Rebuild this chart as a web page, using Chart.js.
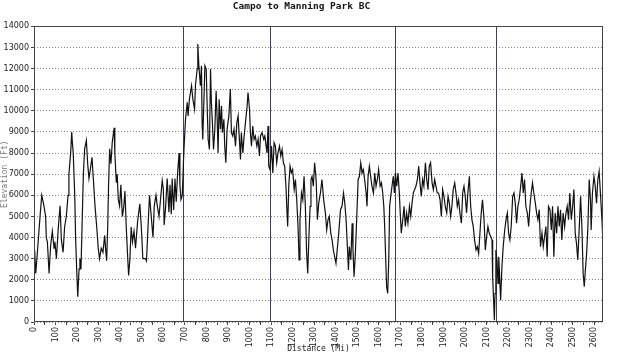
<!DOCTYPE html>
<html>
<head>
<meta charset="utf-8">
<script src="https://cdn.jsdelivr.net/npm/chart.js@4.4.0/dist/chart.umd.min.js"></script>
<style>
  body { margin: 0; background: #fff; }
  #wrap { width: 640px; height: 354px; position: relative; }
</style>
</head>
<body>
<div id="wrap"><canvas id="elevChart"></canvas></div>
<script>
// trail distance (mi) and elevation (ft)
const miles = [
  0, 3, 8, 15, 28, 36, 46, 54, 57, 62, 70, 77, 85, 93, 97, 104, 113, 121, 127, 135,
  142, 150, 158, 162, 170, 175, 178, 182, 189, 193, 198, 203, 209, 213, 218, 224, 229, 235, 243, 249,
  255, 261, 269, 274, 283, 291, 298, 304, 312, 320, 328, 332, 337, 342, 346, 351, 357, 363, 372, 375,
  382, 386, 391, 397, 403, 410, 416, 422, 428, 434, 439, 445, 451, 457, 464, 471, 481, 491, 498, 505,
  518, 522, 529, 536, 544, 552, 558, 566, 572, 580, 587, 595, 600, 604, 611, 618, 626, 631, 637, 641,
  648, 654, 660, 666, 673, 677, 682, 688,
  695, 703, 711, 715, 721, 731, 737, 745, 749, 757, 760, 765, 772, 777, 780, 783, 788, 793, 799, 803,
  808, 814, 819, 823, 827, 833, 839, 845, 850, 854, 859, 865, 870, 874, 881, 885, 890, 896, 904, 911,
  916, 922, 928, 935, 941, 947, 953, 958, 962, 969, 975, 981, 989, 993, 1000, 1004, 1009, 1015, 1021, 1027,
  1034, 1040, 1046, 1051, 1058, 1066, 1071, 1077, 1081, 1086, 1089, 1095, 1102, 1108, 1114, 1120, 1126, 1132, 1139, 1145,
  1151, 1157, 1163, 1169, 1174, 1177, 1182, 1188, 1194, 1200, 1207, 1213, 1219, 1225, 1230, 1234, 1241, 1247, 1253, 1259,
  1265, 1270, 1275, 1281, 1285, 1290, 1296, 1302, 1309, 1315, 1321, 1329, 1336, 1344, 1352, 1358, 1364, 1370, 1377, 1383,
  1389, 1395, 1401,
  1414, 1422, 1429, 1436, 1442, 1448, 1454, 1459, 1463, 1470, 1476, 1480, 1485, 1491, 1497, 1504, 1510, 1516, 1522, 1528,
  1534, 1541, 1545, 1550, 1556, 1562, 1568, 1575, 1581, 1587, 1593, 1599, 1606, 1612, 1618, 1623, 1627, 1632, 1636, 1641,
  1646, 1650, 1655, 1661, 1667, 1672, 1677, 1683, 1689, 1695, 1700, 1704, 1711, 1717, 1723, 1729, 1735, 1742, 1748, 1754,
  1760, 1766, 1772, 1779, 1785, 1791, 1797, 1803, 1809, 1816, 1822, 1828, 1834, 1840, 1847, 1853, 1859, 1865, 1871, 1877,
  1884, 1890, 1896, 1902, 1908, 1915, 1921, 1927, 1933, 1939, 1945, 1952, 1958, 1964, 1970, 1976, 1983, 1989, 1995, 2001,
  2007, 2013, 2020, 2026, 2032, 2038, 2044, 2051, 2057, 2063, 2069, 2075, 2081, 2088, 2094, 2100, 2106,
  2112, 2119, 2125, 2128, 2133, 2136, 2139, 2143, 2148, 2153, 2156, 2160, 2165, 2171, 2177, 2184, 2190, 2196, 2202, 2208,
  2214, 2221, 2227, 2233, 2239, 2245, 2251, 2258, 2264, 2270, 2276, 2282, 2289, 2295, 2301, 2307, 2313, 2319, 2326, 2332,
  2338, 2344, 2350, 2357, 2363, 2369, 2375, 2381, 2387, 2394, 2400, 2406, 2412, 2418, 2425, 2431, 2437, 2443, 2449, 2455,
  2462, 2468, 2474, 2480, 2486, 2493, 2499, 2505, 2511, 2517, 2523, 2530, 2536, 2542, 2548, 2553, 2557, 2564, 2570, 2576,
  2582, 2585, 2591, 2598, 2604, 2610, 2616, 2622, 2628, 2635, 2638
];
const elevationFt = [
  2600, 3400, 2300, 3200, 5000, 6000, 5500, 5000, 4000, 3800, 2300, 3600, 4300, 3500, 3800, 3000, 4500, 5500, 3900, 3300,
  4500, 5000, 6000, 7000, 8000, 9000, 8500, 8000, 6000, 4000, 2500, 1200, 2500, 3000, 2500, 5000, 7000, 8200, 8600, 7500,
  6800, 7200, 7800, 7000, 5500, 4500, 3500, 3000, 3500, 3300, 4100, 3500, 2900, 4500, 6500, 8200, 7500, 8500, 9200, 8000,
  6600, 7000, 5800, 5500, 6500, 5000, 5400, 6200, 4500, 3200, 2200, 3000, 4500, 3800, 4300, 3500, 4800, 5600, 4500, 3000,
  3000, 2900, 4500, 6000, 5000, 4000, 5500, 6000, 5500, 5000, 5800, 6700, 6300, 4600, 5500, 6800, 5200, 6500, 5100, 6800,
  5300, 6800, 5700, 7000, 8000, 6500, 5800, 6000,
  8010, 9600, 10400, 9760, 10550, 11190, 10550, 10080, 11190, 11980, 13170, 12140, 11190, 12140, 9440, 8650, 10400, 12140, 11980, 10400,
  8650, 8170, 11980, 10400, 9600, 8170, 9130, 10950, 9600, 8010, 10550, 9130, 10240, 8970, 9600, 8330, 7540, 9130, 9760, 11030,
  8970, 8810, 9130, 8330, 9440, 9760, 8650, 7700, 8970, 8010, 8810, 9440, 10240, 10870, 10080, 8970, 8330, 9280, 8650, 8810,
  8330, 8650, 7860, 8810, 8970, 8650, 8810, 8330, 8010, 9280, 7380, 7220, 8330, 7060, 8490, 8330, 7540, 8010, 8330, 7860,
  8170, 7540, 7380, 6430, 5160, 4520, 6430, 7380, 7060, 7220, 6270, 6750, 5790, 4520, 2940, 4840, 6110, 5790, 6900, 5480,
  3250, 2300, 3890, 5480, 6750, 6900, 6430, 7540, 6750, 4840, 5630, 6110, 6750, 5790, 5160, 4360, 4840, 5000, 4210, 3890,
  3410, 3090, 2780,
  4210, 5320, 5480, 6110, 5630, 4840, 3570, 2460, 3570, 2940, 4680, 3410, 2140, 3250, 4840, 6750, 6900, 7540, 7060, 7220,
  6750, 6110, 5480, 6900, 7380, 6900, 6430, 6110, 7060, 6430, 6750, 7220, 6430, 6590, 6110, 5480, 4520, 2940, 1670, 1350,
  2940, 5480, 5950, 6430, 6900, 6110, 7060, 6430, 7060, 6110, 5000, 4210, 4840, 5480, 4520, 5160, 4680, 5480, 5000, 5630,
  6110, 6270, 6430, 6750, 7380, 6590, 5950, 6750, 6430, 7540, 6750, 6270, 7380, 7540, 6590, 6270, 6750, 6430, 6110, 6110,
  5790, 5000, 6270, 5950, 5480, 5160, 5950, 5630, 5000, 5480, 6270, 6590, 6110, 5480, 5790, 5160, 4680, 6110, 6430, 5950,
  5160, 6110, 6900, 5480, 4840, 4520, 3890, 3410, 3570, 3250, 4210, 5160, 5790, 4840, 3410, 4050, 4520,
  4210, 4050, 3890, 2140, 870, 80, 1350, 3410, 2940, 1830, 3090, 2300, 1030, 2620, 3570, 4360, 4840, 5160, 4210, 3890,
  4520, 5950, 6110, 5630, 4680, 5480, 5790, 6430, 7060, 6110, 6750, 5480, 5160, 4520, 5480, 6110, 6590, 6110, 5630, 5160,
  4840, 5320, 3570, 4210, 3570, 4050, 4520, 3090, 5480, 5320, 4360, 5480, 3090, 5160, 4210, 5480, 4520, 5320, 3890, 5160,
  4520, 5160, 5480, 4840, 6110, 4840, 5480, 6270, 4210, 3730, 2940, 4520, 5950, 4520, 2300, 1670, 2300, 3250, 4520, 6750,
  5790, 4360, 6110, 6900, 6430, 5630, 6750, 7140, 6110, 4840, 4210
];
// section markers drawn as vertical lines
const sectionMiles = [693, 1095, 1675, 2144];
const elevTicks = [0, 1000, 2000, 3000, 4000, 5000, 6000, 7000, 8000, 9000, 10000, 11000, 12000, 13000, 14000];
const distTicks = [0, 100, 200, 300, 400, 500, 600, 700, 800, 900, 1000, 1100, 1200, 1300,
  1400, 1500, 1600, 1700, 1800, 1900, 2000, 2100, 2200, 2300, 2400, 2500, 2600];

// vertical section lines + frame around the plot
const framePlugin = {
  id: 'framePlugin',
  beforeDatasetsDraw(chart) {
    const { ctx, chartArea, scales } = chart;
    ctx.save();
    ctx.strokeStyle = '#3d3d66';
    ctx.lineWidth = 1;
    sectionMiles.forEach(m => {
      const x = Math.round(scales.x.getPixelForValue(m)) + 0.5;
      ctx.beginPath();
      ctx.moveTo(x, chartArea.top);
      ctx.lineTo(x, chartArea.bottom);
      ctx.stroke();
    });
    ctx.restore();
  },
  afterDraw(chart) {
    const { ctx, chartArea } = chart;
    ctx.save();
    ctx.strokeStyle = '#444';
    ctx.lineWidth = 1;
    ctx.strokeRect(Math.round(chartArea.left) + 0.5, Math.round(chartArea.top) + 0.5,
      Math.round(chartArea.width) - 1, Math.round(chartArea.height) - 1);
    ctx.restore();
  }
};

function createElevationChart() {
  const ctx = document.getElementById('elevChart').getContext('2d');
  const points = miles.map((m, i) => ({ x: m, y: elevationFt[i] }));
  const minorTicks = [];
  distTicks.forEach(v => { minorTicks.push(v); if (v < 2600) minorTicks.push(v + 50); });

  new Chart(ctx, {
    type: 'line',
    data: {
      datasets: [{
        data: points,
        borderColor: '#111',
        borderWidth: 1.2,
        pointRadius: 0,
        tension: 0,
        fill: false
      }]
    },
    options: {
      responsive: true,
      maintainAspectRatio: false,
      animation: false,
      layout: { padding: { left: 0, right: 37, top: 0, bottom: 0 } },
      plugins: {
        legend: { display: false },
        tooltip: { enabled: false },
        title: {
          display: true,
          text: 'Campo to Manning Park BC',
          color: '#111',
          font: { family: 'DejaVu Sans Mono', size: 9.5, weight: 'bold' },
          padding: { top: 1, bottom: 14 }
        }
      },
      scales: {
        x: {
          type: 'linear',
          min: 0,
          max: 2640,
          afterBuildTicks: s => { s.ticks = minorTicks.map(v => ({ value: v })); },
          afterFit: s => { s.height = 32; },
          border: { display: false },
          grid: { drawOnChartArea: false, drawTicks: true, tickLength: 3, color: '#444' },
          ticks: {
            autoSkip: false,
            minRotation: 90,
            maxRotation: 90,
            padding: 2,
            color: '#222',
            font: { family: 'DejaVu Sans', size: 8 },
            callback: v => distTicks.includes(v) ? String(v) : ''
          },
          title: {
            display: true,
            text: 'Distance (Mi)',
            color: '#222',
            font: { family: 'DejaVu Sans Mono', size: 8 },
            padding: 0
          }
        },
        y: {
          min: 0,
          max: 14000,
          afterBuildTicks: s => { s.ticks = elevTicks.map(v => ({ value: v })); },
          afterFit: s => { s.width = 34; },
          border: { display: false, dash: [1, 2] },
          grid: { color: '#888', tickLength: 3, tickColor: '#444', tickBorderDash: [] },
          ticks: {
            padding: 2,
            color: '#222',
            font: { family: 'DejaVu Sans', size: 8 },
            callback: v => String(v)
          },
          title: {
            display: true,
            text: 'Elevation (Ft)',
            color: '#777',
            font: { family: 'DejaVu Sans Mono', size: 8 },
            padding: 0
          }
        }
      }
    },
    plugins: [framePlugin]
  });
}

window.onload = createElevationChart;
</script>
</body>
</html>
